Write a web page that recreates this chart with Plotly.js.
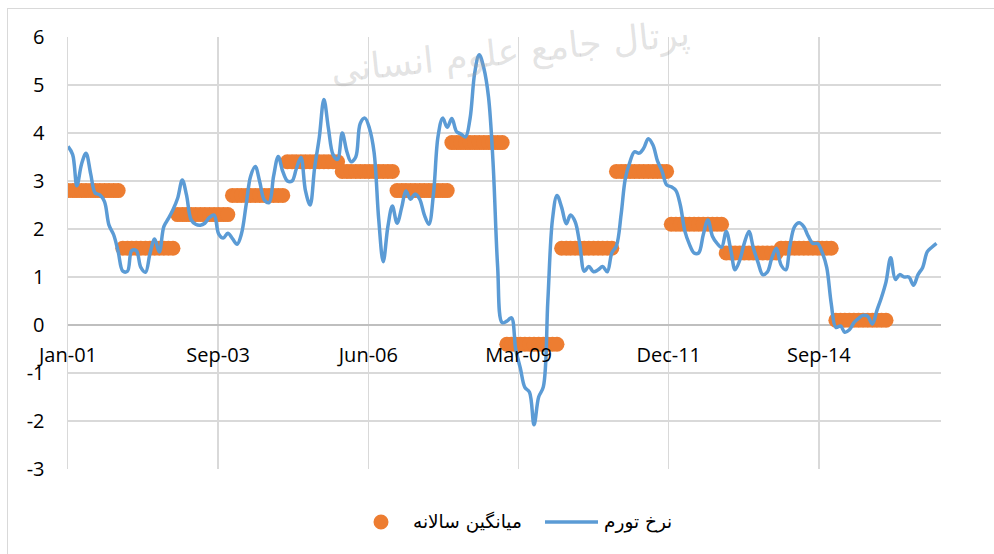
<!DOCTYPE html>
<html><head><meta charset="utf-8">
<script src="https://cdn.plot.ly/plotly-3.0.1.min.js"></script>
<style>
html,body{margin:0;padding:0;background:#fff;width:994px;height:554px;overflow:hidden;}
#frame{position:absolute;left:7px;top:8px;width:1000px;height:560px;border-left:1.5px solid #d9d9d9;border-top:1.5px solid #d9d9d9;}
#chart{position:absolute;left:0;top:0;width:994px;height:554px;}
</style></head><body>
<div id="frame"></div><div id="chart"></div>
<script>
const startYear = 2001;
const inflation = [
3.72,3.55,2.90,3.35,3.58,3.15,2.75,2.71,2.57,2.08,1.88,1.53,
1.12,1.12,1.55,1.55,1.20,1.10,1.49,1.79,1.52,2.05,2.22,2.40,
2.64,3.02,2.71,2.19,2.10,2.08,2.12,2.24,2.29,1.90,1.81,1.91,
1.80,1.68,1.90,2.50,3.10,3.30,2.98,2.60,2.55,3.10,3.51,3.20,
3.00,3.00,3.25,3.49,2.80,2.50,3.27,3.90,4.70,4.10,3.55,3.45,
4.00,3.61,3.40,3.50,4.20,4.31,4.10,3.60,2.20,1.32,2.05,2.48,
2.12,2.45,2.79,2.62,2.73,2.62,2.30,2.10,2.75,3.93,4.31,4.12,
4.30,4.03,3.98,3.92,4.30,5.25,5.63,5.35,4.75,3.40,1.20,0.05,
0.08,0.15,-0.50,-0.90,-1.30,-1.40,-2.08,-1.50,-1.29,0.50,2.20,2.70,
2.45,2.11,2.29,2.15,1.70,1.12,1.22,1.11,1.15,1.22,1.11,1.50,
1.65,2.30,3.05,3.40,3.61,3.58,3.68,3.88,3.75,3.42,3.20,2.92,
2.88,2.80,2.50,1.95,1.68,1.50,1.50,1.88,2.19,1.85,1.70,1.62,
1.95,1.55,1.15,1.35,1.70,1.95,1.60,1.30,1.05,1.10,1.40,1.60,
1.25,1.15,1.65,2.05,2.13,2.05,1.85,1.70,1.70,1.52,1.20,0.45,
-0.05,-0.02,-0.15,-0.10,0.05,0.14,0.20,0.18,0.02,0.30,0.58,0.90,
1.40,0.95,1.05,1.00,1.00,0.83,1.05,1.20,1.53,1.62,1.70
];
const avgYears = [2001,2002,2003,2004,2005,2006,2007,2008,2009,2010,2011,2012,2013,2014,2015];
const annualAvg = [2.8,1.6,2.3,2.7,3.4,3.2,2.8,3.8,-0.4,1.6,3.2,2.1,1.5,1.6,0.1];
const tickDates = ['2001-01-01','2003-09-28','2006-06-24','2009-03-20','2011-12-15','2014-09-10'];
const tickLabels = ['Jan-01','Sep-03','Jun-06','Mar-09','Dec-11','Sep-14'];
const yTickVals = [-3,-2,-1,0,1,2,3,4,5,6];
const yTickText = ['-3','-2','-1','0','1','2','3','4','5','6'];
const legendNames = ['میانگین سالانه','نرخ تورم'];
const watermark = 'پرتال جامع علوم انسانی';

const ORANGE = '#ED7D31', BLUE = '#5B9BD5';
function monthDate(y, m){ return y + '-' + String(m).padStart(2,'0') + '-01'; }
const lineX = inflation.map((v,i)=>monthDate(startYear + Math.floor(i/12), (i%12)+1));
const avgX = [], avgY = [];
avgYears.forEach((yr,k)=>{ for(let m=1;m<=12;m++){ avgX.push(monthDate(yr,m)); avgY.push(annualAvg[k]); } });

const traces = [
  {x: avgX, y: avgY, type:'scatter', mode:'markers', name: legendNames[0], showlegend:false,
   marker:{color:ORANGE, size:15, line:{width:0}}, hoverinfo:'skip'},
  {x: lineX, y: inflation, type:'scatter', mode:'lines', name: legendNames[1], showlegend:false,
   line:{color:BLUE, width:3.5, shape:'spline', smoothing:1}, hoverinfo:'skip'}
];
const tf = {family:'Open Sans, sans-serif', size:20, color:'#000'};
// legend geometry (paper coords)
const PL = 68, PW = 873, PB = 469, PH = 432;
const px = v => (v - PL) / PW, py = v => (PB - v) / PH;
const legY = py(522);
const lf = {family:'DejaVu Sans, sans-serif', size:18.5, color:'#000'};
const layout = {
  width:994, height:554,
  margin:{l:68, r:53, t:37, b:85, pad:0},
  paper_bgcolor:'rgba(0,0,0,0)', plot_bgcolor:'rgba(0,0,0,0)',
  showlegend:false,
  xaxis:{type:'date', range:['2001-01-01','2016-12-01'], tickvals:tickDates, ticktext:tickLabels,
         showgrid:true, gridcolor:'#d9d9d9', gridwidth:1.5, zeroline:false, showline:false,
         anchor:'free', position:1/3, ticks:'', ticklabelstandoff:16, tickfont:tf, fixedrange:true},
  yaxis:{range:[-3,6], tickvals:yTickVals, ticktext:yTickText, showgrid:true, gridcolor:'#d9d9d9', gridwidth:1.5,
         zeroline:true, zerolinecolor:'#bfbfbf', zerolinewidth:1.5, showline:true, linecolor:'#d9d9d9', linewidth:1.5,
         ticks:'', ticklabelstandoff:18, tickfont:tf, fixedrange:true},
  shapes:[
    {type:'circle', xref:'paper', yref:'paper', xsizemode:'pixel', ysizemode:'pixel',
     xanchor:px(381), yanchor:legY, x0:-7.5, x1:7.5, y0:-7.5, y1:7.5,
     fillcolor:ORANGE, line:{width:0}},
    {type:'line', xref:'paper', yref:'paper', x0:px(545), x1:px(598), y0:legY, y1:legY,
     line:{color:BLUE, width:3.5}}
  ],
  annotations:[
    {text: legendNames[0], xref:'paper', yref:'paper', x:px(411), y:legY, xanchor:'left', yanchor:'middle', showarrow:false, font:lf},
    {text: legendNames[1], xref:'paper', yref:'paper', x:px(602), y:legY, xanchor:'left', yanchor:'middle', showarrow:false, font:lf},
    {text: watermark, xref:'paper', yref:'paper', x:px(510), y:py(52), xanchor:'center', yanchor:'middle', showarrow:false,
     textangle:-6, font:{family:'DejaVu Sans, sans-serif', size:36, color:'rgba(160,160,160,0.3)'}}
  ]
};
Plotly.newPlot('chart', traces, layout, {displayModeBar:false, staticPlot:true});
</script>
</body></html>
